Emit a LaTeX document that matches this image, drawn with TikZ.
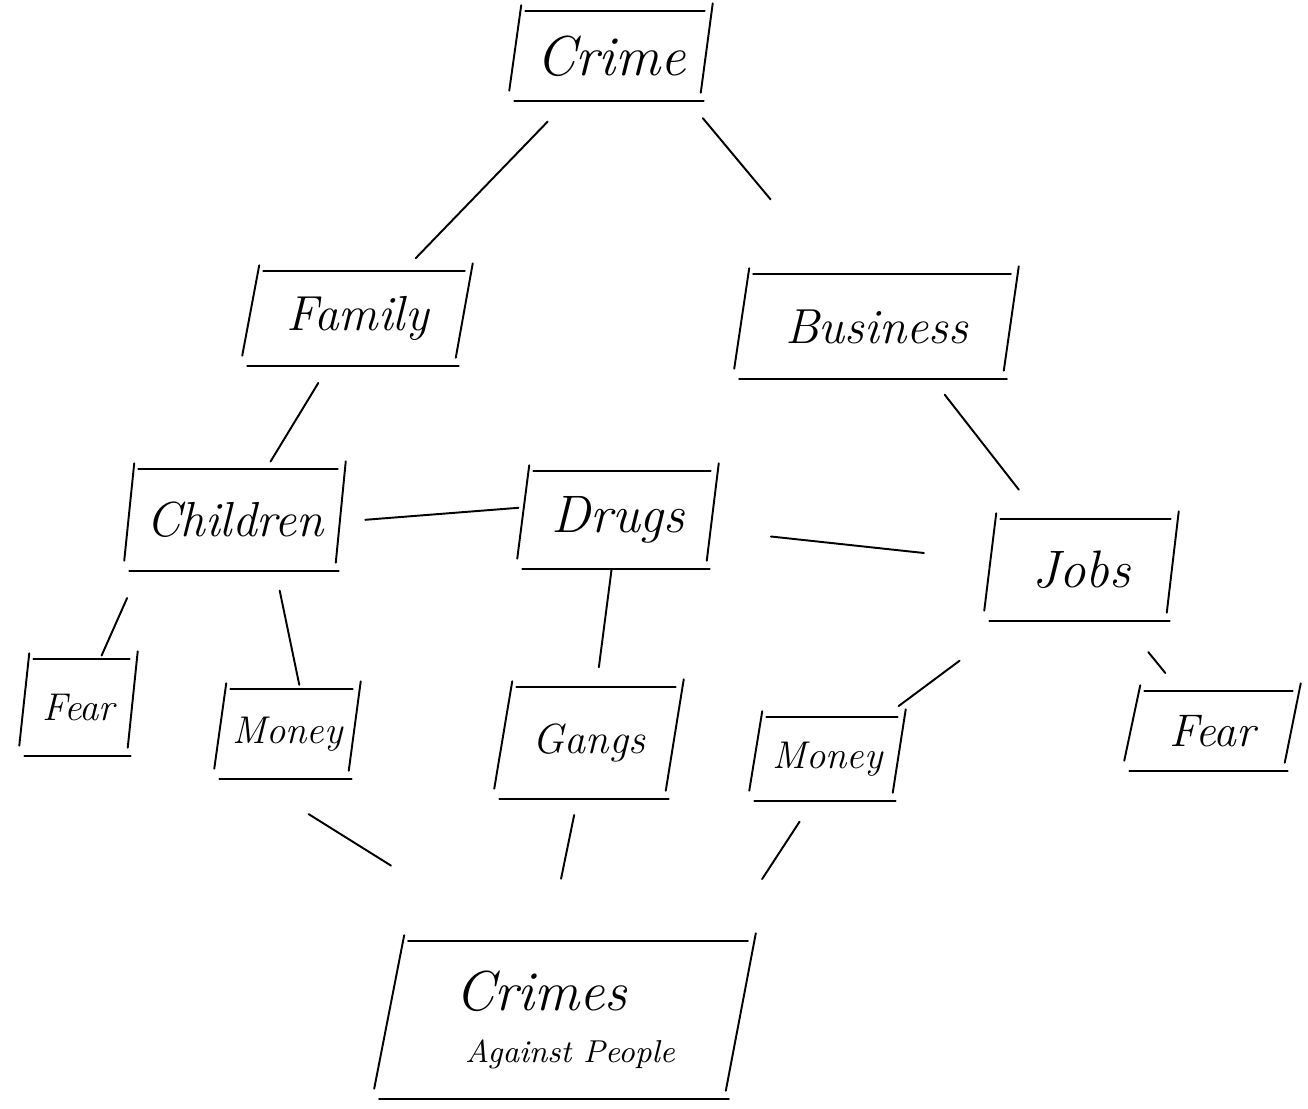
\documentclass[tikz,border=0pt]{standalone}
\usetikzlibrary{calc}

% four loose strokes round a node, top edge pushed right by #2
\newcommand{\sketchbox}[2]{%
  \draw[pen] ($(#1.north west)+(#2+4,0)$) -- ($(#1.north east)+(-8,0)$);
  \draw[pen] ($(#1.south west)+(5,0)$) -- ($(#1.south east)+(-#2+3,0)$);
  \draw[pen] ($(#1.north west)+(#2,-6)$) -- ($(#1.south west)+(0,-10)$);
  \draw[pen] ($(#1.north east)+(0,-8)$) -- ($(#1.south east)+(-#2,-8)$);
}
% part of the line between two nodes
\newcommand{\joinpart}[4]{%
  \draw[pen] ($(#1)!#3!(#2)$) -- ($(#1)!#4!(#2)$);
}

\begin{document}
\begin{tikzpicture}[
    x=0.01cm, y=-0.01cm,
    pen/.style={line width=0.55pt, line cap=round},
    word/.style={inner sep=0pt},
    fs/.style={font=\fontsize{#1}{#1}\selectfont\itshape},
    sz/.style 2 args={minimum width=#1, minimum height=#2}
  ]
  \useasboundingbox (0,0) rectangle (1308,1109);

  % Top
  \node[word, fs=16, sz={2.02cm}{0.88cm}] (crime) at (611,56) {Crime};

  % Second row
  \node[word, fs=14, sz={2.29cm}{0.93cm}] (family) at (357.5,318.5) {Family};
  \node[word, fs=14, sz={2.83cm}{1.03cm}] (business) at (876.5,326.5) {Business};

  % Third row
  \node[word, fs=14, sz={2.20cm}{1.00cm}] (children) at (235,520) {Children};
  \node[word, fs=15, sz={2.00cm}{0.96cm}] (drugs) at (618,520) {Drugs};
  \node[word, fs=15, sz={1.93cm}{1.00cm}] (jobs) at (1081.5,570) {Jobs};

  % Fourth row
  \node[word, fs=11, sz={1.17cm}{0.95cm}] (fearL) at (78.5,707.5) {Fear};
  \node[word, fs=11, sz={1.45cm}{0.88cm}] (moneyL) at (287.5,734) {Money};
  \node[word, fs=12, sz={1.88cm}{1.10cm}] (gangs) at (589,743) {Gangs};
  \node[word, fs=11, sz={1.55cm}{0.82cm}] (moneyM) at (827.5,759) {Money};
  \node[word, fs=13, sz={1.75cm}{0.78cm}] (fearR) at (1212.5,731) {Fear};

  % Bottom
  \node[word, sz={3.80cm}{1.56cm}, align=left, font=\itshape] (crimes) at (565,1020)
    {\fontsize{16}{18}\selectfont Crimes\\[3pt]\fontsize{9}{11}\selectfont\hspace*{0.1cm}Against People};

  % Boxes
  \sketchbox{crime}{12}
  \sketchbox{family}{17}
  \sketchbox{business}{15}
  \sketchbox{children}{10}
  \sketchbox{drugs}{12}
  \sketchbox{jobs}{12}
  \sketchbox{fearL}{10}
  \sketchbox{moneyL}{12}
  \sketchbox{gangs}{18}
  \sketchbox{moneyM}{13}
  \sketchbox{fearR}{16}
  \sketchbox{crimes}{30}

  % Links
  \joinpart{crime}{family}{0.25}{0.77}
  \joinpart{[xshift=0.4cm]crime.center}{business}{0.23}{0.53}
  \joinpart{family}{children}{0.32}{0.71}
  \joinpart{[xshift=0.15cm]business.center}{jobs}{0.28}{0.67}
  \joinpart{[yshift=-0.1cm]children.center}{[yshift=0.2cm]drugs.center}{0.34}{0.74}
  \joinpart{drugs}{jobs}{0.33}{0.66}
  \joinpart{[xshift=0.15cm]children.south west}{fearL}{0.2}{0.62}
  \joinpart{[xshift=0.3cm]children.center}{[xshift=0.22cm]moneyL.center}{0.33}{0.77}
  \joinpart{drugs}{gangs}{0.22}{0.66}
  \joinpart{jobs}{moneyM}{0.48}{0.72}
  \joinpart{jobs}{fearR}{0.51}{0.64}
  \joinpart{[xshift=-1.07cm]moneyL.center}{[xshift=0.73cm]crimes.center}{0.28}{0.46}
  \joinpart{gangs}{[xshift=-0.33cm]crimes.center}{0.26}{0.49}
  \joinpart{[xshift=0.13cm]moneyM.center}{[xshift=1.05cm]crimes.center}{0.24}{0.46}
\end{tikzpicture}
\end{document}
